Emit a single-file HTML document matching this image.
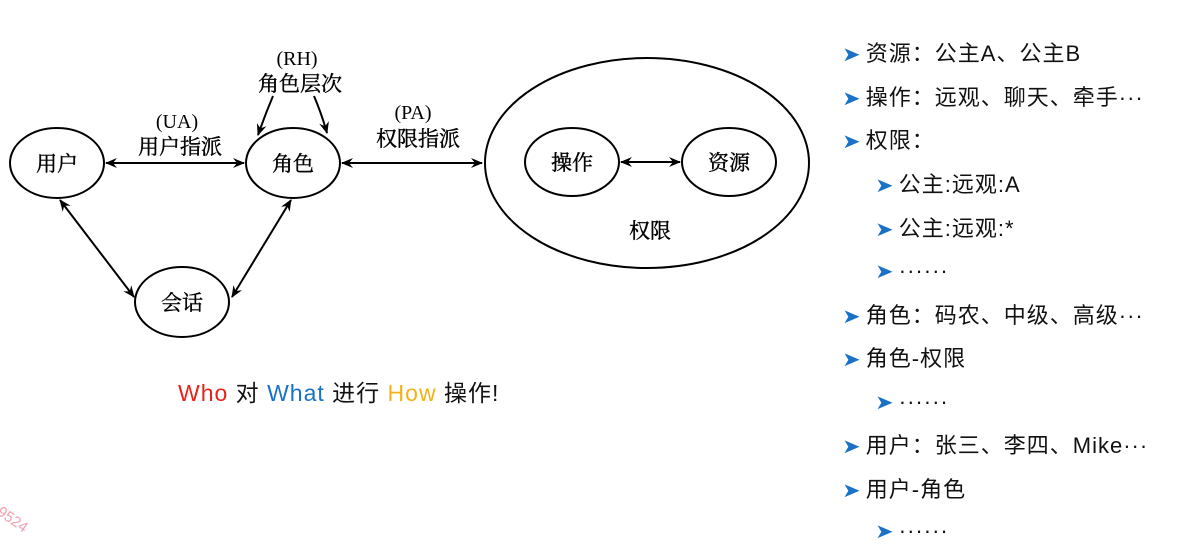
<!DOCTYPE html>
<html><head><meta charset="utf-8"><style>
body{margin:0;width:1197px;height:536px;background:#fff;overflow:hidden;position:relative;font-family:"Liberation Sans","Noto Sans CJK SC",sans-serif}
.li{position:absolute;font-size:22px;color:#111;line-height:26px;white-space:nowrap;letter-spacing:1px}
.ar{color:#1a72c8;font-size:20px;margin-right:5px;display:inline-block;transform:scaleX(1.1)}
</style></head><body>
<svg width="1197" height="536" style="position:absolute;left:0;top:0" font-family="'Liberation Serif','Noto Serif CJK SC',serif">
<defs><marker id="a" markerWidth="12" markerHeight="10" refX="11" refY="5" orient="auto-start-reverse" markerUnits="userSpaceOnUse"><path d="M0,0 L12,5 L0,10 L4,5 z" fill="#000"/></marker></defs>
<g fill="none" stroke="#000" stroke-width="2">
<ellipse cx="57" cy="163" rx="47" ry="35"/>
<ellipse cx="293" cy="163" rx="47" ry="35"/>
<ellipse cx="182" cy="302" rx="47" ry="35"/>
<ellipse cx="647" cy="163" rx="162" ry="105"/>
<ellipse cx="572" cy="162" rx="47" ry="34"/>
<ellipse cx="729" cy="162" rx="47" ry="34"/>
<line x1="106" y1="163" x2="244" y2="163" marker-start="url(#a)" marker-end="url(#a)"/>
<line x1="342" y1="163" x2="482" y2="163" marker-start="url(#a)" marker-end="url(#a)"/>
<line x1="621" y1="162" x2="680" y2="162" marker-start="url(#a)" marker-end="url(#a)"/>
<line x1="60" y1="200" x2="134" y2="297" marker-start="url(#a)" marker-end="url(#a)"/>
<line x1="291" y1="200" x2="232" y2="297" marker-start="url(#a)" marker-end="url(#a)"/>
<path d="M273,96 Q265,115 258,135" marker-end="url(#a)"/>
<path d="M314,96 Q322,115 327,133" marker-end="url(#a)"/>
</g>
<g font-size="21" text-anchor="middle" fill="#000" stroke="#000" stroke-width="0.4">
<text x="57" y="171">用户</text>
<text x="293" y="171">角色</text>
<text x="182" y="310">会话</text>
<text x="572" y="170">操作</text>
<text x="729" y="170">资源</text>
<text x="650" y="238">权限</text>
<text x="300" y="91">角色层次</text>
<text x="180" y="154">用户指派</text>
<text x="418" y="146">权限指派</text>
</g>
<g font-size="20" text-anchor="middle" fill="#000">
<text x="297" y="65">(RH)</text>
<text x="177" y="128">(UA)</text>
<text x="413" y="119">(PA)</text>
</g>
<text x="-2" y="522" font-size="15" fill="#f2a0b0" transform="rotate(35 10 515)" font-family="Liberation Sans">9524</text>
</svg>
<div class="li" style="left:178px;top:380px;font-size:23px;letter-spacing:1px">
<span style="color:#e8231c">Who</span> 对 <span style="color:#1a72c8">What</span> 进行 <span style="color:#f3b21a">How</span> 操作!</div>
<div class="li" style="left:843px;top:41px"><span class="ar">➤</span>资源：公主A、公主B</div>
<div class="li" style="left:843px;top:85px"><span class="ar">➤</span>操作：远观、聊天、牵手···</div>
<div class="li" style="left:843px;top:128px"><span class="ar">➤</span>权限：</div>
<div class="li" style="left:876px;top:172px"><span class="ar">➤</span>公主:远观:A</div>
<div class="li" style="left:876px;top:216px"><span class="ar">➤</span>公主:远观:*</div>
<div class="li" style="left:876px;top:258px"><span class="ar">➤</span>······</div>
<div class="li" style="left:843px;top:303px"><span class="ar">➤</span>角色：码农、中级、高级···</div>
<div class="li" style="left:843px;top:346px"><span class="ar">➤</span>角色-权限</div>
<div class="li" style="left:876px;top:389px"><span class="ar">➤</span>······</div>
<div class="li" style="left:843px;top:433px"><span class="ar">➤</span>用户：张三、李四、Mike···</div>
<div class="li" style="left:843px;top:477px"><span class="ar">➤</span>用户-角色</div>
<div class="li" style="left:876px;top:518px"><span class="ar">➤</span>······</div>
</body></html>
